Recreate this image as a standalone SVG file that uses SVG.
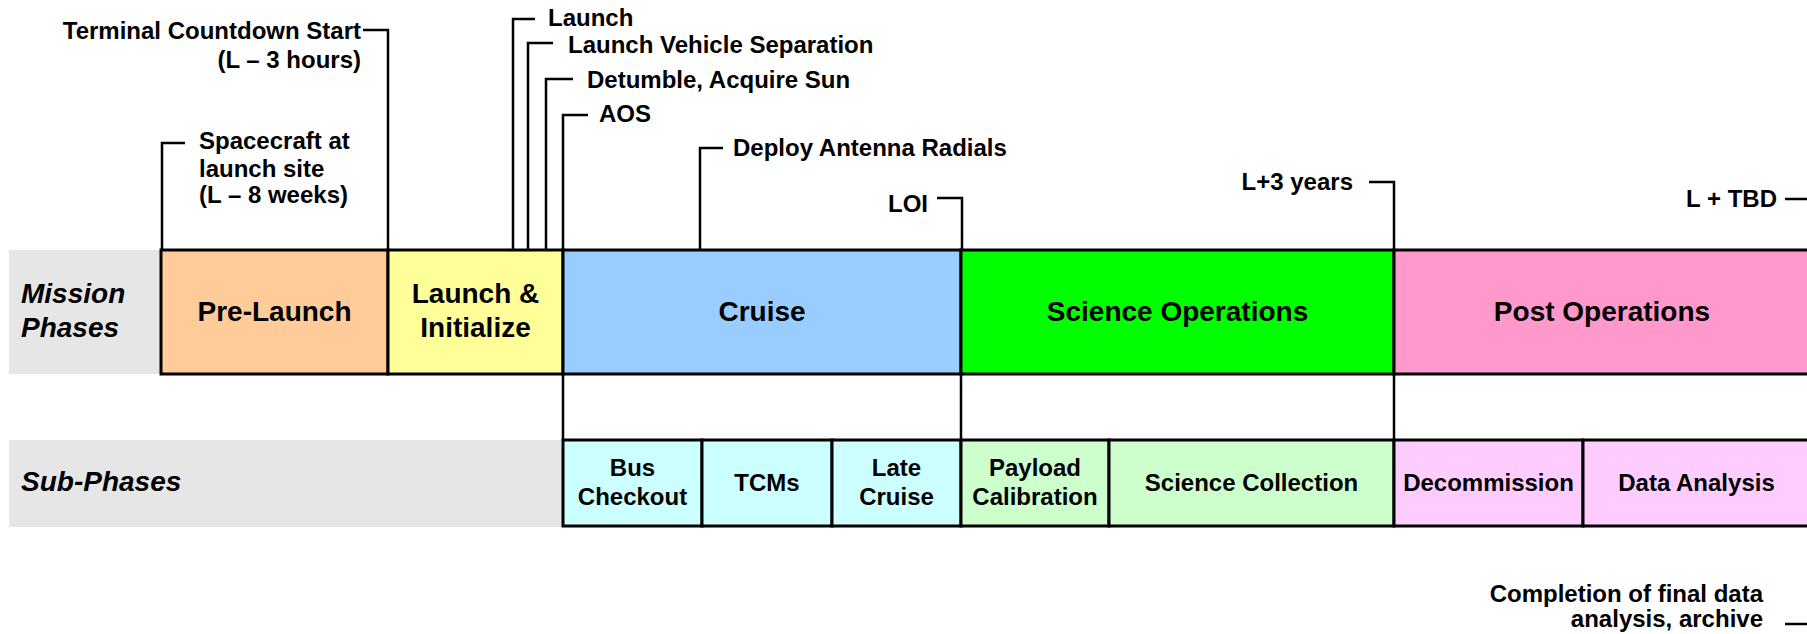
<svg xmlns="http://www.w3.org/2000/svg" width="1807" height="634" viewBox="0 0 1807 634">
  <style>
    text { font-family: "Liberation Sans", Arial, Helvetica, sans-serif; font-weight: bold; fill: #000; }
    .note { font-size: 24px; }
    .phase { font-size: 28px; text-anchor: middle; }
    .sub { font-size: 24px; text-anchor: middle; }
    .rowlabel { font-size: 28px; font-style: italic; }
    .end { text-anchor: end; }
    .box { stroke: #000; stroke-width: 3; }
    .band { fill: #e6e6e6; }
    .wire { fill: none; stroke: #000; stroke-width: 2.5; }
  </style>

  <!-- row label bands -->
  <g id="row-mission">
    <rect class="band" x="9" y="250" width="152" height="124"/>
    <text class="rowlabel" x="21" y="303">Mission</text>
    <text class="rowlabel" x="21" y="337">Phases</text>
  </g>
  <g id="row-subphases">
    <rect class="band" x="9" y="440" width="554" height="87"/>
    <text class="rowlabel" x="21" y="491">Sub-Phases</text>
  </g>

  <!-- mission phases -->
  <g id="phase-prelaunch">
    <rect class="box" x="161" y="250" width="227" height="124" fill="#ffcc99"/>
    <text class="phase" x="274.5" y="321">Pre-Launch</text>
  </g>
  <g id="phase-launch">
    <rect class="box" x="388" y="250" width="175" height="124" fill="#ffff99"/>
    <text class="phase" x="475.5" y="303">Launch &amp;</text>
    <text class="phase" x="475.5" y="337">Initialize</text>
  </g>
  <g id="phase-cruise">
    <rect class="box" x="563" y="250" width="398" height="124" fill="#99ccff"/>
    <text class="phase" x="762" y="321">Cruise</text>
  </g>
  <g id="phase-science">
    <rect class="box" x="961" y="250" width="433" height="124" fill="#00ff00"/>
    <text class="phase" x="1177.5" y="321">Science Operations</text>
  </g>
  <g id="phase-post">
    <rect class="box" x="1394" y="250" width="416" height="124" fill="#ff99cc"/>
    <text class="phase" x="1602" y="321">Post Operations</text>
  </g>

  <!-- sub-phases -->
  <g id="sub-bus-checkout">
    <rect class="box" x="563" y="440" width="139" height="86" fill="#ccffff"/>
    <text class="sub" x="632.5" y="476">Bus</text>
    <text class="sub" x="632.5" y="505">Checkout</text>
  </g>
  <g id="sub-tcms">
    <rect class="box" x="702" y="440" width="130" height="86" fill="#ccffff"/>
    <text class="sub" x="767" y="491">TCMs</text>
  </g>
  <g id="sub-late-cruise">
    <rect class="box" x="832" y="440" width="129" height="86" fill="#ccffff"/>
    <text class="sub" x="896.5" y="476">Late</text>
    <text class="sub" x="896.5" y="505">Cruise</text>
  </g>
  <g id="sub-payload-cal">
    <rect class="box" x="961" y="440" width="148" height="86" fill="#ccffcc"/>
    <text class="sub" x="1035" y="476">Payload</text>
    <text class="sub" x="1035" y="505">Calibration</text>
  </g>
  <g id="sub-science-collection">
    <rect class="box" x="1109" y="440" width="285" height="86" fill="#ccffcc"/>
    <text class="sub" x="1251.5" y="491">Science Collection</text>
  </g>
  <g id="sub-decommission">
    <rect class="box" x="1394" y="440" width="189" height="86" fill="#ffccff"/>
    <text class="sub" x="1488.5" y="491">Decommission</text>
  </g>
  <g id="sub-data-analysis">
    <rect class="box" x="1583" y="440" width="227" height="86" fill="#ffccff"/>
    <text class="sub" x="1696.5" y="491">Data Analysis</text>
  </g>

  <!-- milestone labels -->
  <g id="ms-spacecraft-at-site">
    <text class="note" x="199" y="149">Spacecraft at</text>
    <text class="note" x="199" y="177">launch site</text>
    <text class="note" x="199" y="203">(L – 8 weeks)</text>
  </g>
  <g id="ms-terminal-countdown">
    <text class="note end" x="361" y="39">Terminal Countdown Start</text>
    <text class="note end" x="361" y="68">(L – 3 hours)</text>
  </g>
  <g id="ms-launch">
    <text class="note" x="548" y="26">Launch</text>
  </g>
  <g id="ms-lv-separation">
    <text class="note" x="568" y="53">Launch Vehicle Separation</text>
  </g>
  <g id="ms-detumble">
    <text class="note" x="587" y="88">Detumble, Acquire Sun</text>
  </g>
  <g id="ms-aos">
    <text class="note" x="599" y="122">AOS</text>
  </g>
  <g id="ms-deploy-radials">
    <text class="note" x="733" y="156">Deploy Antenna Radials</text>
  </g>
  <g id="ms-loi">
    <text class="note end" x="928" y="212">LOI</text>
  </g>
  <g id="ms-l-plus-3">
    <text class="note end" x="1353" y="190">L+3 years</text>
  </g>
  <g id="ms-l-plus-tbd">
    <text class="note end" x="1777" y="207">L + TBD</text>
  </g>
  <g id="ms-completion">
    <text class="note end" x="1763" y="602">Completion of final data</text>
    <text class="note end" x="1763" y="627">analysis, archive</text>
  </g>

  <!-- connectors: milestone leaders and row links -->
  <g id="connectors">
    <polyline class="wire" points="185,143 162,143 162,250"/>
    <polyline class="wire" points="363,30 388,30 388,250"/>
    <polyline class="wire" points="535,19 513,19 513,250"/>
    <polyline class="wire" points="553,43 528,43 528,250"/>
    <polyline class="wire" points="573,79 546,79 546,250"/>
    <polyline class="wire" points="588,115 563,115 563,250"/>
    <polyline class="wire" points="723,148 700,148 700,250"/>
    <polyline class="wire" points="937,198 962,198 962,250"/>
    <polyline class="wire" points="1369,182 1394,182 1394,250"/>
    <polyline class="wire" points="1785,199 1810,199"/>
    <polyline class="wire" points="1785,624 1810,624"/>
    <line class="wire" x1="563" y1="374" x2="563" y2="440"/>
    <line class="wire" x1="961" y1="374" x2="961" y2="440"/>
    <line class="wire" x1="1394" y1="374" x2="1394" y2="440"/>
  </g>
</svg>
